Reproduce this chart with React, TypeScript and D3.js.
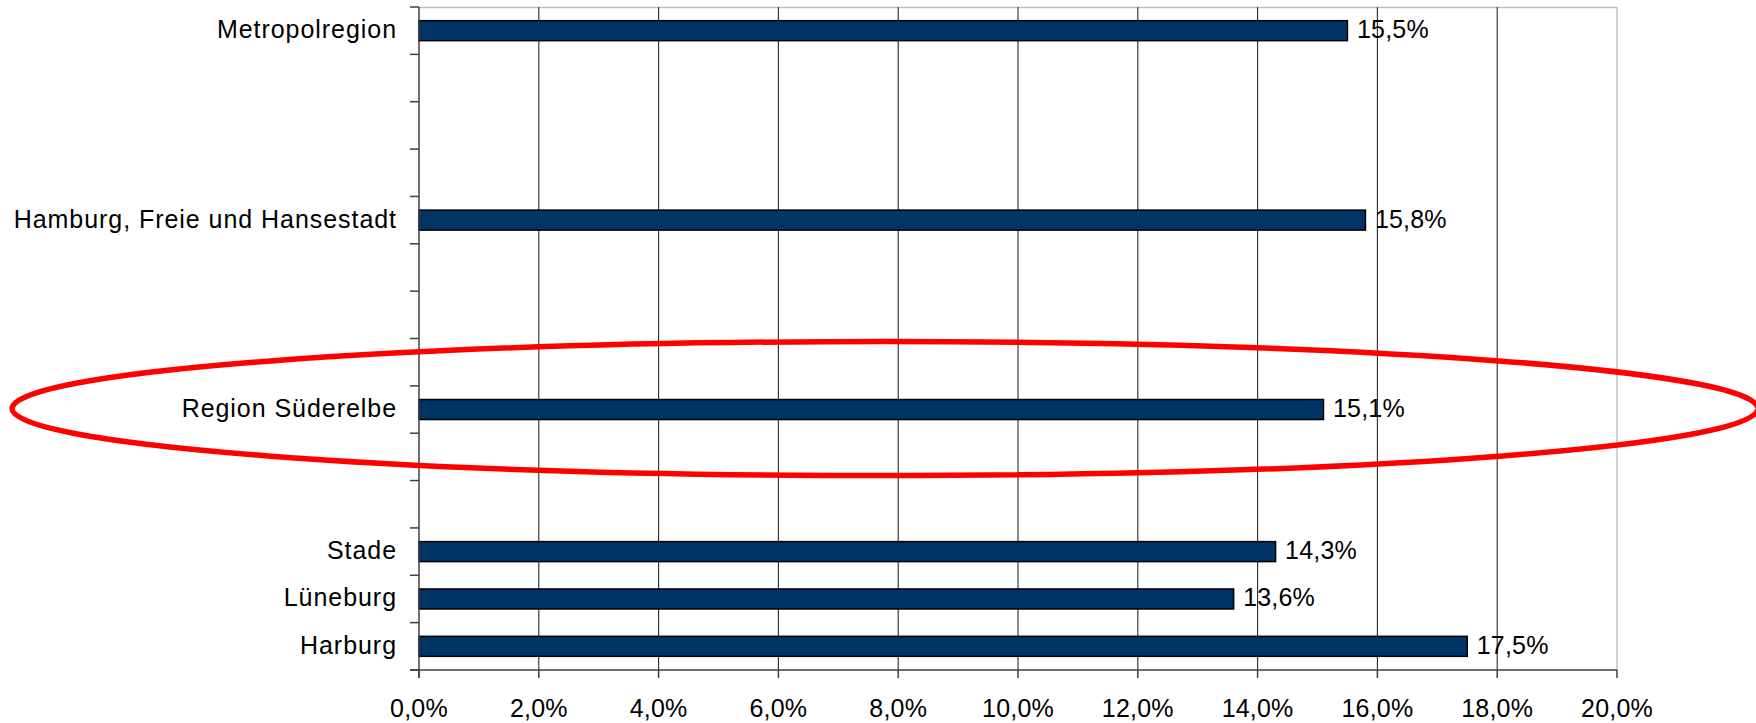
import React from "react";
import * as d3 from "d3";

const categories: string[] = [
  "Metropolregion", "", "", "",
  "Hamburg, Freie und Hansestadt", "", "", "",
  "Region Süderelbe", "", "",
  "Stade", "Lüneburg", "Harburg",
];
const values: (number | null)[] = [
  15.5, null, null, null,
  15.8, null, null, null,
  15.1, null, null,
  14.3, 13.6, 17.5,
];
const xTicks: number[] = [0, 2, 4, 6, 8, 10, 12, 14, 16, 18, 20];
const highlightIndex = 8;

const W = 1756;
const H = 723;
const margin = { left: 419, right: 139, top: 7, bottom: 53 };
const FONT = "'Liberation Sans', Arial, Helvetica, sans-serif";
const fmt = (v: number) => v.toFixed(1).replace(".", ",") + "%";

export default function App() {
  const x = d3.scaleLinear().domain([0, 20]).range([margin.left, W - margin.right]);
  const y = d3
    .scaleBand<number>()
    .domain(d3.range(categories.length))
    .range([margin.top, H - margin.bottom])
    .padding(0);
  const bw = y.bandwidth();
  const barH = 20;
  const x0 = x(0);
  const x1 = x(20);
  const yTop = margin.top;
  const yBot = H - margin.bottom;

  const cy = (y(highlightIndex) as number) + bw / 2;

  return (
    <svg
      width={W}
      height={H}
      style={{ position: "absolute", left: 0, top: 0, background: "#fff" }}
      fontFamily={FONT}
    >
      {/* plot frame (light) */}
      <line x1={x0} x2={x1} y1={yTop + 0.5} y2={yTop + 0.5} stroke="#c0c0c0" strokeWidth={1.5} />
      <line x1={x1} x2={x1} y1={yTop} y2={yBot} stroke="#c0c0c0" strokeWidth={1.5} />
      {/* vertical gridlines */}
      {xTicks.slice(1, -1).map((t) => (
        <line key={"g" + t} x1={x(t)} x2={x(t)} y1={yTop} y2={yBot} stroke="#2a2a2a" strokeWidth={1.1} />
      ))}
      {/* bars */}
      {values.map((v, i) =>
        v == null ? null : (
          <rect
            key={"b" + i}
            x={x0}
            y={(y(i) as number) + bw / 2 - barH / 2}
            width={x(v) - x0}
            height={barH}
            fill="#003366"
            stroke="#000"
            strokeWidth={1.5}
          />
        )
      )}
      {/* value labels */}
      {values.map((v, i) =>
        v == null ? null : (
          <text
            key={"v" + i}
            x={x(v) + 9.5}
            y={(y(i) as number) + bw / 2}
            dy="0.3em"
            fontSize={25}
            letterSpacing={0.2}
            fill="#000"
          >
            {fmt(v)}
          </text>
        )
      )}
      {/* y axis */}
      <line x1={x0} x2={x0} y1={yTop} y2={yBot + 8} stroke="#404040" strokeWidth={1.5} />
      {d3.range(categories.length + 1).map((i) => {
        const yy = i < categories.length ? (y(i) as number) : yBot;
        return <line key={"yt" + i} x1={x0 - 9} x2={x0} y1={yy} y2={yy} stroke="#404040" strokeWidth={1.5} />;
      })}
      {categories.map((c, i) =>
        c ? (
          <text
            key={"c" + i}
            x={x0 - 22}
            y={(y(i) as number) + bw / 2}
            dy="0.3em"
            textAnchor="end"
            fontSize={25}
            letterSpacing={0.95}
            fill="#000"
          >
            {c}
          </text>
        ) : null
      )}
      {/* x axis */}
      <line x1={x0 - 9} x2={x1} y1={yBot} y2={yBot} stroke="#404040" strokeWidth={1.5} />
      {xTicks.map((t) => (
        <g key={"xt" + t}>
          <line x1={x(t)} x2={x(t)} y1={yBot} y2={yBot + 8} stroke="#404040" strokeWidth={1.5} />
          <text x={x(t)} y={yBot + 46.5} textAnchor="middle" fontSize={25} letterSpacing={0.2} fill="#000">
            {fmt(t)}
          </text>
        </g>
      ))}
      {/* highlight ellipse */}
      <ellipse cx={885} cy={cy - 1} rx={873} ry={67} fill="none" stroke="#ff0000" strokeWidth={5.5} />
    </svg>
  );
}
